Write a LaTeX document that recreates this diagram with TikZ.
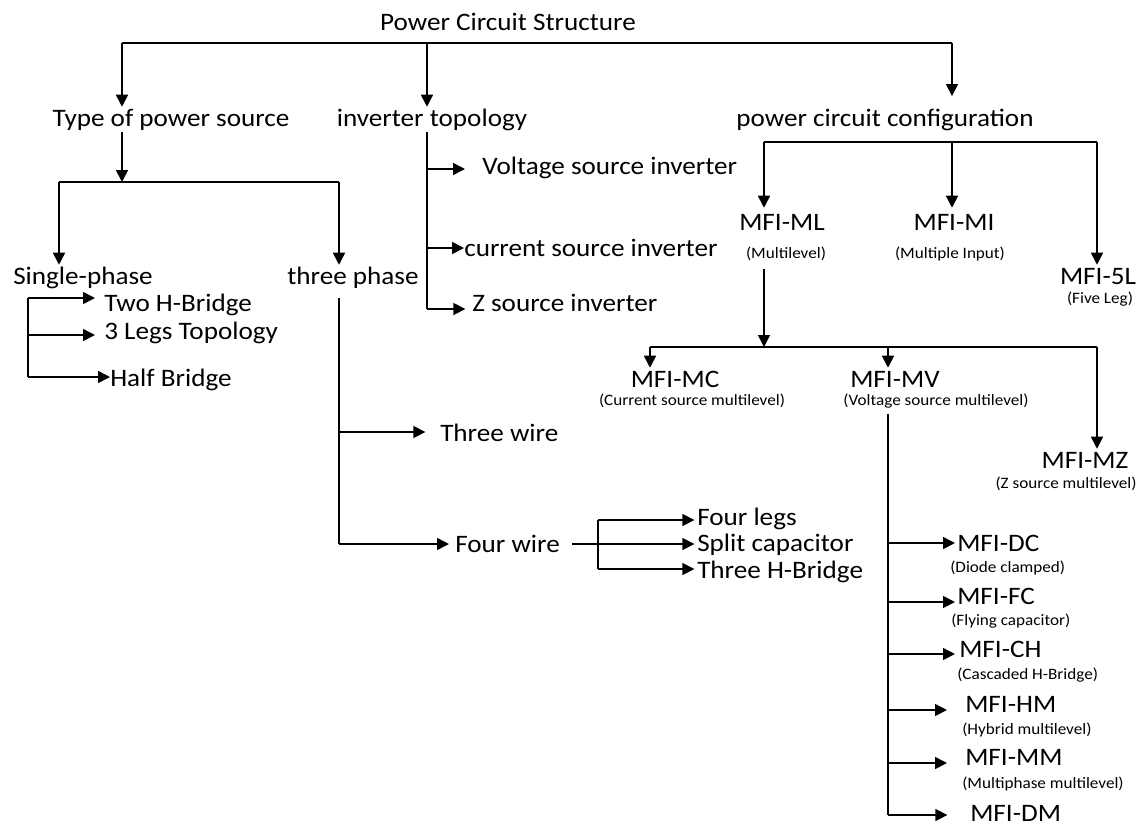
\documentclass[tikz,border=0pt]{standalone}
\usepackage{fontspec}
\setmainfont{Carlito}[FakeStretch=1.08]
\usepackage{tikz}
\usetikzlibrary{arrows.meta}

\tikzset{
  lbl/.style={inner sep=0pt, text height=14.25pt, text depth=2.25pt, font=\fontsize{18.85}{22}\selectfont},
  sublbl/.style={inner sep=0pt, text height=9.5pt, text depth=1.9pt, font=\fontsize{11.9}{14}\selectfont},
  conn/.style={line width=1.2pt},
  arr/.style={conn, -{Triangle[length=9pt,width=9pt]}},
}

\begin{document}
\begin{tikzpicture}[x=0.75pt,y=-0.75pt]
  \useasboundingbox (0,0) rectangle (1139,826);

  % top level
  \node[lbl] (root) at (508,22) {Power Circuit Structure};
  \coordinate (t1) at (122,43);
  \coordinate (t2) at (427,43);
  \coordinate (t3) at (952,43);
  \draw[conn] (t1) -- (t3);

  \node[lbl] (src) at (171,118) {Type of power source};
  \node[lbl] (topo) at (432,118) {inverter topology};
  \node[lbl] (cfg) at (885,118) {power circuit configuration};
  \draw[arr] (t1) -- (t1 |- src.north);
  \draw[arr] (t2) -- (t2 |- topo.north);
  \draw[arr, shorten >=8pt] (t3) -- (t3 |- cfg.north);

  % type of power source
  \coordinate (s0) at (122,182);
  \coordinate (s1) at (59,182);
  \coordinate (s2) at (339,182);
  \draw[arr, shorten <=2pt] (t1 |- src.south) -- (s0);
  \draw[conn] (s1) -- (s2);
  \node[lbl] (single) at (83,276) {Single-phase};
  \node[lbl] (three) at (353,276) {three phase};
  \draw[arr] (s1) -- (s1 |- single.north);
  \draw[arr] (s2) -- (s2 |- three.north);

  % single-phase
  \coordinate (sp1) at (28,298);
  \coordinate (sp2) at (28,335);
  \coordinate (sp3) at (28,377);
  \draw[conn] (sp1) -- (sp3);
  \node[lbl, anchor=west] (twoh) at (104,303) {Two H-Bridge};
  \node[lbl, anchor=west] (legs3) at (104,331) {3 Legs Topology};
  \node[lbl, anchor=west] (half) at (110,378) {Half Bridge};
  \draw[arr, shorten >=6.75pt] (sp1) -- (sp1 -| twoh.west);
  \draw[arr, shorten >=6.75pt] (sp2) -- (sp2 -| legs3.west);
  \draw[arr] (sp3) -- (sp3 -| half.west);

  % three phase
  \coordinate (tp0) at (339,298);
  \coordinate (tp1) at (339,432);
  \coordinate (tp2) at (339,544);
  \draw[conn] (tp0) -- (tp2);
  \node[lbl, anchor=west] (wire3) at (440,433) {Three wire};
  \node[lbl, anchor=west] (wire4) at (455,544) {Four wire};
  \draw[arr, shorten >=11pt] (tp1) -- (tp1 -| wire3.west);
  \draw[arr, shorten >=4.5pt] (tp2) -- (tp2 -| wire4.west);

  % four wire
  \coordinate (fw0) at (598,520);
  \coordinate (fw1) at (598,569);
  \draw[conn] (fw0) -- (fw1);
  \node[lbl, anchor=west] (legs4) at (697,517) {Four legs};
  \node[lbl, anchor=west] (splitc) at (697,543) {Split capacitor};
  \node[lbl, anchor=west] (threeh) at (697,570) {Three H-Bridge};
  \draw[arr, shorten >=2pt] (fw0) -- (fw0 -| legs4.west);
  \draw[arr, shorten <=9pt, shorten >=2pt] (wire4.east) -- (wire4.east -| splitc.west);
  \draw[arr, shorten >=2pt] (fw1) -- (fw1 -| threeh.west);

  % inverter topology
  \coordinate (iv1) at (427,169);
  \coordinate (iv2) at (427,248);
  \coordinate (iv3) at (427,309);
  \draw[conn, shorten <=2pt] (t2 |- topo.south) -- (iv3);
  \node[lbl, anchor=west] (vsi) at (482,166) {Voltage source inverter};
  \node[lbl, anchor=west] (csi) at (464,248) {current source inverter};
  \node[lbl, anchor=west] (zsi) at (472,303) {Z source inverter};
  \draw[arr, shorten >=12.75pt] (iv1) -- (iv1 -| vsi.west);
  \draw[arr] (iv2) -- (iv2 -| csi.west);
  \draw[arr, shorten >=5pt] (iv3) -- (iv3 -| zsi.west);

  % power circuit configuration
  \coordinate (c1) at (764,142);
  \coordinate (c2) at (952,142);
  \coordinate (c3) at (1097,142);
  \draw[conn] (c1) -- (c3);
  \node[lbl] (ml) at (782,222) {MFI-ML};
  \node[sublbl] (mlsub) at (786,253) {(Multilevel)};
  \node[lbl] (mi) at (954,222) {MFI-MI};
  \node[sublbl] (misub) at (950,253) {(Multiple Input)};
  \node[lbl] (fl) at (1098,276) {MFI-5L};
  \node[sublbl] (flsub) at (1100,298) {(Five Leg)};
  \draw[arr, shorten >=2.25pt] (c1) -- (c1 |- ml.north);
  \draw[arr, shorten >=2.25pt] (c2) -- (c2 |- mi.north);
  \draw[arr] (c3) -- (c3 |- fl.north);

  % multilevel
  \coordinate (m0) at (764,347);
  \coordinate (m1) at (650,347);
  \coordinate (m2) at (888,347);
  \coordinate (m3) at (1097,347);
  \draw[arr, shorten <=6pt] (c1 |- mlsub.south) -- (m0);
  \draw[conn] (m1) -- (m3);
  \node[lbl] (mc) at (675,379) {MFI-MC};
  \node[sublbl] (mcsub) at (692,400) {(Current source multilevel)};
  \node[lbl] (mv) at (895,379) {MFI-MV};
  \node[sublbl] (mvsub) at (936,400) {(Voltage source multilevel)};
  \node[lbl] (mz) at (1085,460) {MFI-MZ};
  \node[sublbl] (mzsub) at (1066,483) {(Z source multilevel)};
  \draw[arr] (m1) -- (m1 |- mc.north);
  \draw[arr] (m2) -- (m2 |- mv.north);
  \draw[arr] (m3) -- (m3 |- mz.north);

  % voltage source multilevel
  \coordinate (v1) at (888,543);
  \coordinate (v2) at (888,602);
  \coordinate (v3) at (888,654);
  \coordinate (v4) at (888,710);
  \coordinate (v5) at (888,763);
  \coordinate (v6) at (888,815);
  \draw[conn, shorten <=4.5pt] (m2 |- mvsub.south) -- (v6);
  \node[lbl, anchor=west] (dc) at (957,543) {MFI-DC};
  \node[sublbl, anchor=west] (dcsub) at (950,567) {(Diode clamped)};
  \node[lbl, anchor=west] (fc) at (957,596) {MFI-FC};
  \node[sublbl, anchor=west] (fcsub) at (951,620) {(Flying capacitor)};
  \node[lbl, anchor=west] (ch) at (959,649) {MFI-CH};
  \node[sublbl, anchor=west] (chsub) at (957,674) {(Cascaded H-Bridge)};
  \node[lbl, anchor=west] (hm) at (965,704) {MFI-HM};
  \node[sublbl, anchor=west] (hmsub) at (962,729) {(Hybrid multilevel)};
  \node[lbl, anchor=west] (mm) at (965,757) {MFI-MM};
  \node[sublbl, anchor=west] (mmsub) at (962,783) {(Multiphase multilevel)};
  \node[lbl, anchor=west] (dm) at (970,813) {MFI-DM};
  \draw[arr, shorten >=1.5pt] (v1) -- (v1 -| dc.west);
  \draw[arr, shorten >=1.5pt] (v2) -- (v2 -| fc.west);
  \draw[arr, shorten >=3pt] (v3) -- (v3 -| ch.west);
  \draw[arr, shorten >=13.5pt] (v4) -- (v4 -| hm.west);
  \draw[arr, shorten >=13.5pt] (v5) -- (v5 -| mm.west);
  \draw[arr, shorten >=17pt] (v6) -- (v6 -| dm.west);
\end{tikzpicture}
\end{document}
